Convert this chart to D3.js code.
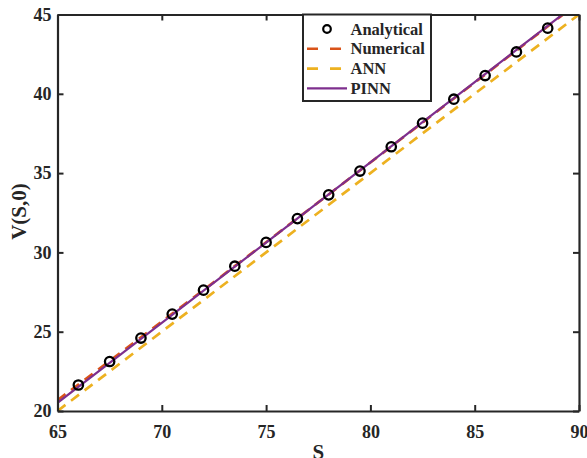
<!DOCTYPE html>
<html>
<head>
<meta charset="utf-8">
<script src="https://cdn.jsdelivr.net/npm/d3@7"></script>
<style>
  html, body { margin: 0; padding: 0; background: #fff; }
  svg text { font-family: "Liberation Serif", "Times New Roman", serif; font-weight: bold; fill: #262626; }
</style>
</head>
<body>
<svg id="chart" width="587" height="458"></svg>
<script>
// Option value V(S,0) against spot price S
const analyticalS = [66, 67.5, 69, 70.5, 72, 73.5, 75, 76.5, 78, 79.5, 81, 82.5, 84, 85.5, 87, 88.5];
const analyticalV = [21.64, 23.12, 24.60, 26.11, 27.62, 29.13, 30.63, 32.13, 33.63, 35.13, 36.66, 38.15, 39.66, 41.15, 42.64, 44.14];

const curveS = [65, 67.5, 70, 72.5, 75, 77.5, 80, 82.5, 85, 87.5, 90];
const numericalV = [20.68, 23.16, 25.64, 28.13, 30.64, 33.15, 35.67, 38.19, 40.71, 43.24, 45.77];
const annV = [20.00, 22.50, 25.00, 27.50, 30.00, 32.50, 35.00, 37.50, 40.00, 42.50, 45.00];
const pinnV = [20.52, 23.04, 25.56, 28.09, 30.62, 33.15, 35.68, 38.21, 40.74, 43.27, 45.80];

const xTicks = [65, 70, 75, 80, 85, 90];
const yTicks = [20, 25, 30, 35, 40, 45];

const legendLabels = ["Analytical", "Numerical", "ANN", "PINN"];
const colors = { Numerical: "#D95319", ANN: "#EDB120", PINN: "#7E2F8E", Analytical: "#000000" };

const margin = { left: 57.5, right: 8, top: 14.5, bottom: 47 };
const W = 587, H = 458;
const svg = d3.select("#chart");

const x = d3.scaleLinear().domain([65, 90]).range([margin.left, W - margin.right]);
const y = d3.scaleLinear().domain([20, 45]).range([H - margin.bottom, margin.top]);

svg.append("defs").append("clipPath").attr("id", "plotclip")
  .append("rect")
  .attr("x", x(65)).attr("y", y(45))
  .attr("width", x(90) - x(65)).attr("height", y(20) - y(45));

const plot = svg.append("g").attr("clip-path", "url(#plotclip)");

const line = d3.line().x(d => x(d[0])).y(d => y(d[1]));
const zip = (a, b) => a.map((v, i) => [v, b[i]]);

// ANN (dashed yellow)
plot.append("path").datum(zip(curveS, annV))
  .attr("d", line).attr("fill", "none")
  .attr("stroke", colors.ANN).attr("stroke-width", 2.7)
  .attr("stroke-dasharray", "10,7");

// Numerical (dashed orange-red)
plot.append("path").datum(zip(curveS, numericalV))
  .attr("d", line).attr("fill", "none")
  .attr("stroke", colors.Numerical).attr("stroke-width", 2.7)
  .attr("stroke-dasharray", "10,7");

// PINN (solid purple)
plot.append("path").datum(zip(curveS, pinnV))
  .attr("d", line).attr("fill", "none")
  .attr("stroke", colors.PINN).attr("stroke-width", 2.2);

// Analytical (open circles)
plot.selectAll("circle.an").data(zip(analyticalS, analyticalV))
  .enter().append("circle").attr("class", "an")
  .attr("cx", d => x(d[0])).attr("cy", d => y(d[1]))
  .attr("r", 4.7).attr("fill", "none")
  .attr("stroke", colors.Analytical).attr("stroke-width", 2.3);

// Axes box with inward ticks on all four sides
const tickLen = 6;
const axisColor = "#262626";
const fontSize = "18px";

const axisBottomG = svg.append("g").attr("transform", `translate(0,${y(20)})`)
  .call(d3.axisBottom(x).tickValues(xTicks).tickSizeInner(-tickLen).tickSizeOuter(0).tickPadding(14));
const axisLeftG = svg.append("g").attr("transform", `translate(${x(65)},0)`)
  .call(d3.axisLeft(y).tickValues(yTicks).tickSizeInner(-tickLen).tickSizeOuter(0).tickPadding(6));
const axisTopG = svg.append("g").attr("transform", `translate(0,${y(45)})`)
  .call(d3.axisTop(x).tickValues(xTicks).tickSizeInner(-tickLen).tickSizeOuter(0).tickFormat(""));
const axisRightG = svg.append("g").attr("transform", `translate(${x(90)},0)`)
  .call(d3.axisRight(y).tickValues(yTicks).tickSizeInner(-tickLen).tickSizeOuter(0).tickFormat(""));

[axisBottomG, axisLeftG, axisTopG, axisRightG].forEach(g => {
  g.select(".domain").attr("stroke", axisColor).attr("stroke-width", 2.2);
  g.selectAll(".tick line").attr("stroke", axisColor).attr("stroke-width", 2);
  g.selectAll(".tick text").style("font-size", fontSize)
    .style("font-family", '"Liberation Serif", serif').style("font-weight", "bold").attr("fill", "#262626");
});

// Axis titles
svg.append("text").attr("x", (x(65) + x(90)) / 2).attr("y", 459)
  .attr("text-anchor", "middle").style("font-size", "21px").text("S");
svg.append("text")
  .attr("transform", "translate(26,211.5) rotate(-90)")
  .attr("text-anchor", "middle").style("font-size", "21px").text("V(S,0)");

// Legend
const lg = svg.append("g");
const lx0 = 303, ly0 = 14.5, lw = 128, lh = 86.5;
lg.append("rect").attr("x", lx0).attr("y", ly0).attr("width", lw).attr("height", lh)
  .attr("fill", "#fff").attr("stroke", axisColor).attr("stroke-width", 2);

legendLabels.forEach((name, i) => {
  const cy = 29 + i * 19.8;
  if (name === "Analytical") {
    lg.append("circle").attr("cx", 327).attr("cy", cy).attr("r", 3.8)
      .attr("fill", "none").attr("stroke", "#000").attr("stroke-width", 2.2);
  } else {
    const seg = lg.append("line").attr("x1", 307).attr("x2", 347)
      .attr("y1", cy).attr("y2", cy)
      .attr("stroke", colors[name]).attr("stroke-width", name === "PINN" ? 2.2 : 2.6);
    if (name !== "PINN") seg.attr("stroke-dasharray", "11,12");
  }
  lg.append("text").attr("x", 350.5).attr("y", cy + 5.5)
    .style("font-size", "16.5px").text(name);
});
</script>
</body>
</html>
